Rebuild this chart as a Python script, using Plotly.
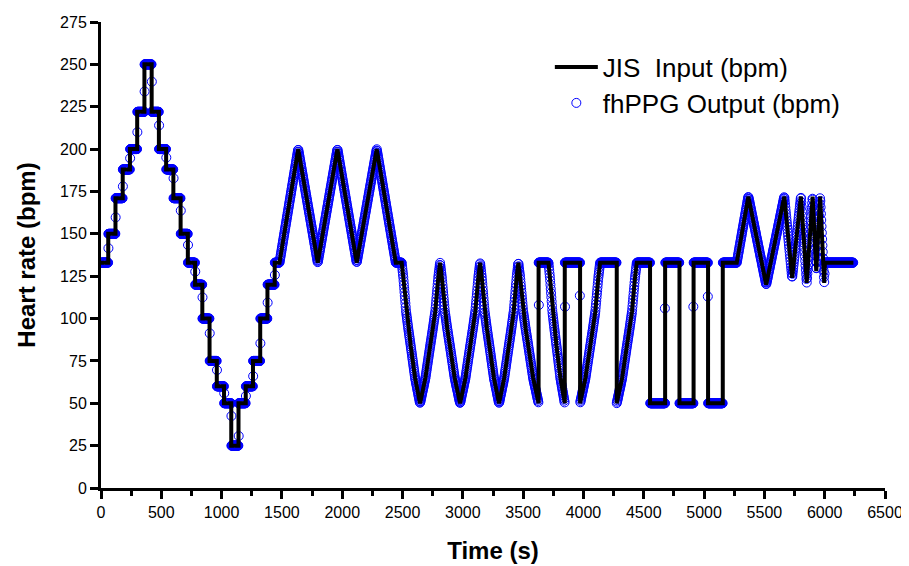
import numpy as np
import plotly.graph_objects as go

# ---------------- JIS input (bpm) ----------------
# Stage 1: 60-s staircase
stair_start = [0, 60, 120, 180, 240, 300, 360, 420, 480, 540, 600, 660, 720,
               780, 840, 900, 960, 1020, 1080, 1140, 1200, 1260, 1320, 1380, 1440]
stair_bpm = [133, 150, 171, 188, 200, 222, 250, 222, 200, 188, 171, 150, 133,
             120, 100, 75, 60, 50, 25, 50, 60, 75, 100, 120, 133]
stair_end = 1480

# Stage 2: triangles 133 <-> 200
tri_t = [1480, 1635, 1797, 1960, 2120, 2286, 2444, 2493]
tri_bpm = [133, 200, 133, 200, 133, 200, 133, 133]

# Stage 3: curved ramps / jumps between 133 and 50 (repeated time = jump)
st3_t = [2493, 2645, 2811, 2977, 3143, 3300, 3460, 3628, 3628, 3710, 3845, 3845,
         3972, 3972, 4138, 4276, 4276, 4442, 4552, 4552, 4677, 4677, 4796, 4796,
         4913, 4913, 5033, 5033, 5155, 5155, 5271]
st3_bpm = [133, 50, 133, 50, 133, 50, 133, 50, 133, 133, 50, 133,
           133, 50, 133, 133, 50, 133, 133, 50, 50, 133, 133, 50,
           50, 133, 133, 50, 50, 133, 133]
# shape of a 133 -> 50 ramp (fraction of ramp time -> bpm)
ramp_frac = [0.0, 0.09, 0.24, 0.36, 0.49, 0.73, 1.0]
ramp_down_bpm = [133, 124, 104, 94, 84, 65, 50]

# Stage 4: fast triangles 133/172/120, then flat
chirp_t = [5271, 5367, 5515, 5665, 5730, 5803, 5851, 5900, 5930, 5962, 5996, 6002, 6238]
chirp_bpm = [133, 172, 120, 172, 124, 172, 121, 172, 128, 172, 121, 133, 133]

# ---------------- fhPPG output (bpm) ----------------
out_dt = 2.5  # output sample interval (s)
# transitional output values read at staircase steps
stair_trans = [141.5, 159.7, 178, 194.6, 210, 234, 239.8, 214, 195, 182.8, 163.7, 143.4,
               127.7, 112.5, 91.3, 69.6, 55.9, 42.5, 30.7, 54.3, 66, 85.4, 109.4, 125.7]
# transitional output values read at stage-3 jumps
jump_t = [3630, 3847, 3970, 4675, 4911, 5031]
jump_bpm = [108, 107, 113.5, 106, 107, 113]

# ---------------- build input polyline ----------------
in_t, in_b = [], []
for i, (t0, b) in enumerate(zip(stair_start, stair_bpm)):
    t1 = stair_start[i + 1] if i + 1 < len(stair_start) else stair_end
    in_t += [t0, t1]
    in_b += [b, b]
in_t += tri_t[1:]
in_b += tri_bpm[1:]

fr = np.array(ramp_frac)
down_vals = np.array(ramp_down_bpm, dtype=float)
for i in range(1, len(st3_t)):
    t0, t1 = st3_t[i - 1], st3_t[i]
    b0, b1 = st3_bpm[i - 1], st3_bpm[i]
    if b0 != b1 and t1 - t0 > 30:
        if b0 > b1:                      # falling ramp
            ts = t0 + fr * (t1 - t0)
            vals = down_vals
        else:                            # rising ramp (mirror image)
            ts = t0 + (1 - fr[::-1]) * (t1 - t0)
            vals = down_vals[::-1]
        in_t += list(ts[1:])
        in_b += list(vals[1:])
    else:
        in_t.append(t1)
        in_b.append(b1)
in_t += chirp_t[1:]
in_b += chirp_bpm[1:]

in_t = np.array(in_t, dtype=float)
in_b = np.array(in_b, dtype=float)

out_t = np.arange(out_dt / 2, in_t[-1], out_dt)
out_b = np.interp(out_t, in_t, in_b)
out_t = np.concatenate([out_t, np.array(stair_start[1:]) + 1.5, jump_t])
out_b = np.concatenate([out_b, stair_trans, jump_bpm])

FONT = "Liberation Sans, Arial, sans-serif"
fig = go.Figure()
fig.add_trace(go.Scatter(
    x=out_t, y=out_b, mode="markers", name="fhPPG Output (bpm)", legend="legend2",
    marker=dict(symbol="circle-open", size=9, color="#0000FF", line=dict(width=1)),
))
fig.add_trace(go.Scatter(
    x=in_t, y=in_b, mode="lines", name="JIS\u00a0 Input (bpm)", legend="legend",
    line=dict(color="black", width=4),
))

axis_common = dict(
    showline=True, linecolor="black", linewidth=3, showgrid=False, zeroline=False,
    ticks="outside", tickcolor="black", ticklen=8, tickwidth=2.5, automargin=False,
    tickfont=dict(family=FONT, size=16, color="black"),
)
# page body has an 8 px margin, so margins are offset by 8 px
fig.update_layout(
    width=909, height=566,
    margin=dict(l=93, r=32, t=14, b=86),
    paper_bgcolor="white", plot_bgcolor="white",
    showlegend=True,
    xaxis=dict(range=[0, 6500], tickmode="linear", tick0=0, dtick=500,
               minor=dict(ticks="outside", dtick=250, ticklen=5, tickwidth=2.5, tickcolor="black"),
               title=dict(text="<b>Time (s)</b>", font=dict(family=FONT, size=24, color="black"), standoff=22),
               **axis_common),
    yaxis=dict(range=[0, 275], tickmode="linear", tick0=0, dtick=25,
               title=dict(text="<b>Heart rate (bpm)</b>", font=dict(family=FONT, size=24, color="black"), standoff=18),
               **axis_common),
    legend=dict(x=0.5725, y=(488 - 67) / 466, xanchor="left", yanchor="middle", itemwidth=43,
                font=dict(family=FONT, size=26, color="black"), bgcolor="rgba(0,0,0,0)"),
    legend2=dict(x=0.5725, y=(488 - 103) / 466, xanchor="left", yanchor="middle", itemwidth=43,
                 font=dict(family=FONT, size=26, color="black"), bgcolor="rgba(0,0,0,0)"),
)
fig.write_html("out.html")
